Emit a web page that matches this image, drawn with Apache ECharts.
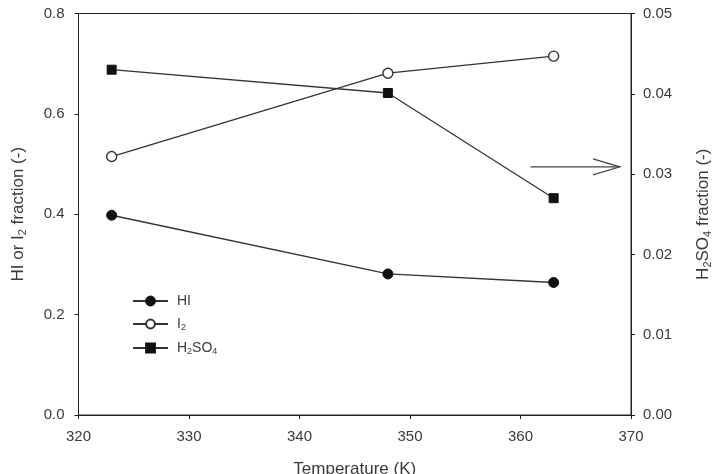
<!DOCTYPE html>
<html>
<head>
<meta charset="utf-8">
<script src="https://cdn.jsdelivr.net/npm/echarts@6/dist/echarts.min.js"></script>
<style>html,body{margin:0;padding:0;background:#fff;}#c{width:713px;height:474px;}</style>
</head>
<body>
<div id="c"></div>
<script>
var temperatures = [323, 348, 363];
var hiFraction = [0.398, 0.281, 0.264];
var i2Fraction = [0.515, 0.681, 0.715];
var h2so4Fraction = [0.0430, 0.0401, 0.0270];
var leftTicks = [0.0, 0.2, 0.4, 0.6, 0.8];
var rightTicks = [0.00, 0.01, 0.02, 0.03, 0.04, 0.05];
var xTicks = [320, 330, 340, 350, 360, 370];
var arrowFrom = [360.9, 0.0309];
var arrowTo = [369.0, 0.0309];

function pairs(xs, ys) { return xs.map(function (x, i) { return [x, ys[i]]; }); }

var FONT = '"Liberation Sans", Arial, sans-serif';
var INK = '#222';
var LAB = '#3a3a3a';
var rich = {
  m: { fontSize: 17, fontFamily: FONT, color: LAB, lineHeight: 20 },
  s: { fontSize: 11, fontFamily: FONT, color: LAB, lineHeight: 11, verticalAlign: 'bottom' }
};
var legendRich = {
  m: { fontSize: 14, fontFamily: FONT, color: LAB, lineHeight: 16 },
  s: { fontSize: 9, fontFamily: FONT, color: LAB, lineHeight: 9, verticalAlign: 'bottom' }
};

var chart = echarts.init(document.getElementById('c'), null, { renderer: 'canvas' });
var axisCommon = {
  axisLine: { show: true, lineStyle: { color: INK, width: 1 } },
  axisTick: { show: true, inside: false, length: 4, lineStyle: { color: INK } },
  splitLine: { show: false },
  axisLabel: { fontSize: 15, fontFamily: FONT, color: LAB }
};
var option = {
  animation: false,
  backgroundColor: '#fff',
  grid: { left: 78.5, right: 82, top: 13.5, bottom: 59, outerBoundsMode: 'none', containLabel: false,
    show: true, borderColor: INK, borderWidth: 1, backgroundColor: 'transparent' },
  legend: {
    orient: 'vertical',
    left: 132, top: 294, padding: 0,
    itemWidth: 35, itemHeight: 11, itemGap: 9,
    data: ['HI', 'I2', 'H2SO4'],
    formatter: function (n) {
      if (n === 'I2') return '{m|I}{s|2}';
      if (n === 'H2SO4') return '{m|H}{s|2}{m|SO}{s|4}';
      return '{m|' + n + '}';
    },
    textStyle: { rich: legendRich, padding: [0, 0, 0, 4] }
  },
  xAxis: Object.assign({}, axisCommon, {
    type: 'value', min: 320, max: 370, interval: 10,
    name: 'Temperature (K)', nameLocation: 'middle', nameGap: 46,
    nameTextStyle: { fontSize: 17, fontFamily: FONT, color: LAB },
    axisLabel: { fontSize: 15, fontFamily: FONT, color: LAB, margin: 14 }
  }),
  yAxis: [
    Object.assign({}, axisCommon, {
      type: 'value', min: 0, max: 0.8, interval: 0.2, position: 'left',
      name: '{m|HI or I}{s|2}{m| fraction (-)}', nameLocation: 'middle', nameGap: 50, nameRotate: 90,
      nameTextStyle: { rich: rich },
      axisLabel: { fontSize: 15, fontFamily: FONT, color: LAB, margin: 14,
        formatter: function (v) { return v.toFixed(1); } }
    }),
    Object.assign({}, axisCommon, {
      type: 'value', min: 0, max: 0.05, interval: 0.01, position: 'right',
      name: '{m|H}{s|2}{m|SO}{s|4}{m| fraction (-)}', nameLocation: 'middle', nameGap: 62, nameRotate: 90,
      nameTextStyle: { rich: rich },
      axisLabel: { fontSize: 15, fontFamily: FONT, color: LAB, margin: 12,
        formatter: function (v) { return v.toFixed(2); } }
    })
  ],
  series: [
    { name: 'HI', type: 'line', yAxisIndex: 0, data: pairs(temperatures, hiFraction),
      symbol: 'circle', symbolSize: 10,
      itemStyle: { color: '#111', borderColor: '#111', borderWidth: 1 },
      lineStyle: { color: '#333', width: 1.3 } },
    { name: 'I2', type: 'line', yAxisIndex: 0, data: pairs(temperatures, i2Fraction),
      symbol: 'circle', symbolSize: 10,
      itemStyle: { color: '#fff', borderColor: '#333', borderWidth: 1.4 },
      lineStyle: { color: '#333', width: 1.3 } },
    { name: 'H2SO4', type: 'line', yAxisIndex: 1, data: pairs(temperatures, h2so4Fraction),
      symbol: 'rect', symbolSize: 9,
      itemStyle: { color: '#111', borderColor: '#111', borderWidth: 1 },
      lineStyle: { color: '#333', width: 1.3 } }
  ]
};
chart.setOption(option);

var p0 = chart.convertToPixel({ xAxisIndex: 0, yAxisIndex: 1 }, arrowFrom);
var p1 = chart.convertToPixel({ xAxisIndex: 0, yAxisIndex: 1 }, arrowTo);
chart.setOption({
  graphic: [
    { type: 'line', shape: { x1: p0[0], y1: p0[1], x2: p1[0], y2: p1[1] }, style: { stroke: '#444', lineWidth: 1.2 } },
    { type: 'polyline', shape: { points: [[p1[0] - 27, p1[1] - 8], [p1[0], p1[1]], [p1[0] - 27, p1[1] + 8]] }, style: { stroke: '#444', lineWidth: 1.2, fill: null } }
  ]
});
</script>
</body>
</html>
